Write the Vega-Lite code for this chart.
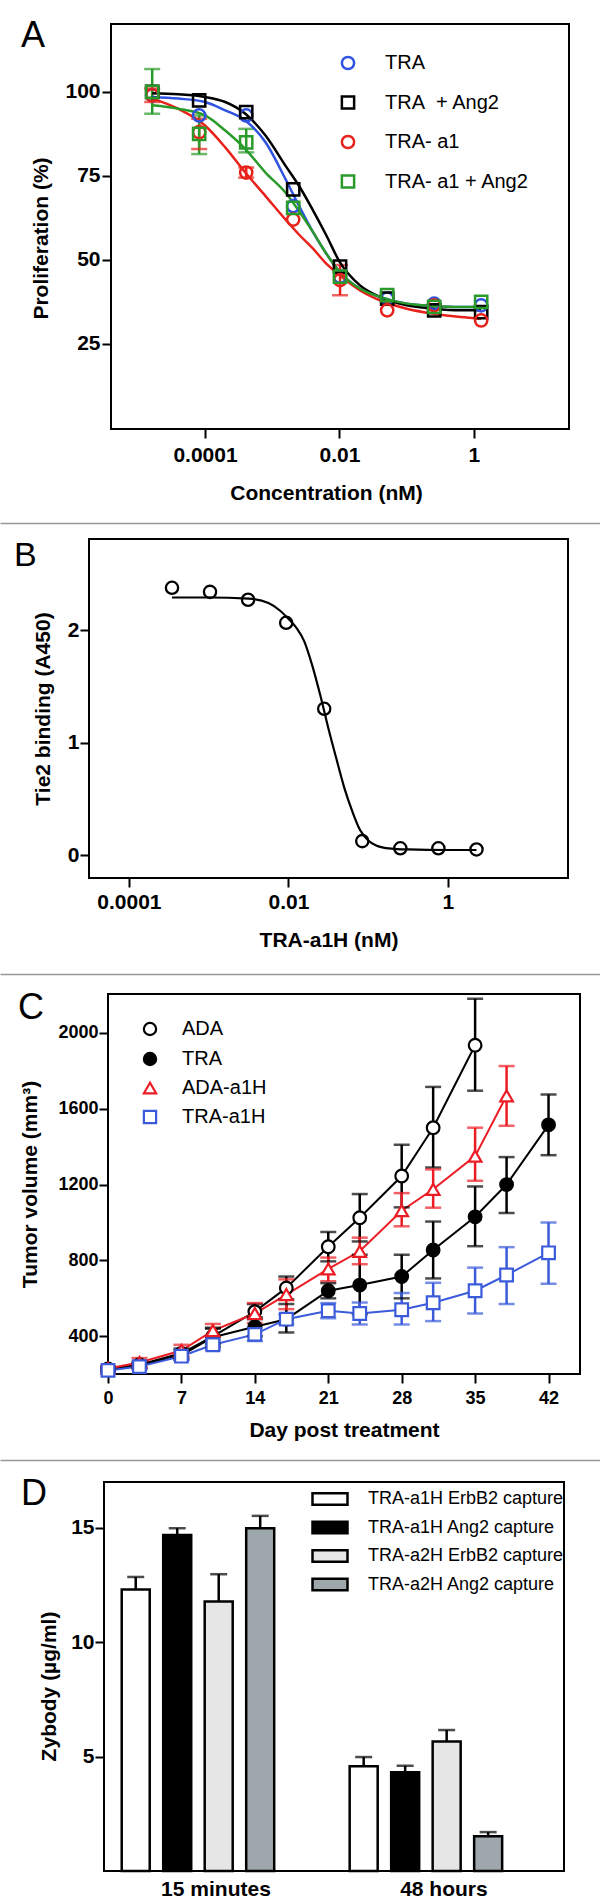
{
  "$schema": "https://vega.github.io/schema/vega-lite/v6.json",
  "padding": {"left": 0, "top": 17, "right": 0, "bottom": 0},
  "background": "white",
  "spacing": 15,
  "resolve": {
    "scale": {"color": "independent", "stroke": "independent", "fill": "independent", "shape": "independent"},
    "legend": {"color": "independent", "stroke": "independent", "fill": "independent", "shape": "independent"}
  },
  "config": {
    "font": "Liberation Sans",
    "view": {"stroke": "black", "strokeWidth": 2},
    "axis": {"domain": false, "grid": false, "tickColor": "black", "tickWidth": 2, "tickSize": 9,
      "labelFont": "Liberation Sans", "labelFontWeight": "bold", "labelFontSize": 21, "labelColor": "black",
      "labelPadding": 2, "labelOverlap": false, "labelFlush": false,
      "titleFont": "Liberation Sans", "titleFontWeight": "bold", "titleFontSize": 21, "titleColor": "black"},
    "legend": {"labelFont": "Liberation Sans", "labelColor": "black", "padding": 0, "labelLimit": 400, "symbolOpacity": 1},
    "title": {"font": "Liberation Sans", "fontSize": 36, "fontWeight": "normal", "color": "black", "anchor": "start", "frame": "group", "offset": 0, "baseline": "top"}
  },
  "datasets": {
    "a_pts": [
      {"s":"TRA","x":1.64e-5,"y":99},{"s":"TRA","x":8.19e-5,"y":93},{"s":"TRA","x":4.1e-4,"y":93},{"s":"TRA","x":2.05e-3,"y":66},{"s":"TRA","x":1.02e-2,"y":45},{"s":"TRA","x":5.12e-2,"y":38.5},{"s":"TRA","x":0.256,"y":37},{"s":"TRA","x":1.28,"y":36.5},
      {"s":"TRA\u00a0 + Ang2","x":1.64e-5,"y":100},{"s":"TRA\u00a0 + Ang2","x":8.19e-5,"y":97.5},{"s":"TRA\u00a0 + Ang2","x":4.1e-4,"y":94},{"s":"TRA\u00a0 + Ang2","x":2.05e-3,"y":71},{"s":"TRA\u00a0 + Ang2","x":1.02e-2,"y":48},{"s":"TRA\u00a0 + Ang2","x":5.12e-2,"y":38.5},{"s":"TRA\u00a0 + Ang2","x":0.256,"y":35},{"s":"TRA\u00a0 + Ang2","x":1.28,"y":34.5},
      {"s":"TRA- a1","x":1.64e-5,"y":99},{"s":"TRA- a1","x":8.19e-5,"y":88},{"s":"TRA- a1","x":4.1e-4,"y":76},{"s":"TRA- a1","x":2.05e-3,"y":62},{"s":"TRA- a1","x":1.02e-2,"y":44},{"s":"TRA- a1","x":5.12e-2,"y":35},{"s":"TRA- a1","x":0.256,"y":36.5},{"s":"TRA- a1","x":1.28,"y":32},
      {"s":"TRA- a1 + Ang2","x":1.64e-5,"y":100},{"s":"TRA- a1 + Ang2","x":8.19e-5,"y":87.5},{"s":"TRA- a1 + Ang2","x":4.1e-4,"y":85},{"s":"TRA- a1 + Ang2","x":2.05e-3,"y":65.5},{"s":"TRA- a1 + Ang2","x":1.02e-2,"y":45},{"s":"TRA- a1 + Ang2","x":5.12e-2,"y":39.5},{"s":"TRA- a1 + Ang2","x":0.256,"y":36},{"s":"TRA- a1 + Ang2","x":1.28,"y":37.5}
    ],
    "a_curve": [
      {"s":"TRA","x":1.64e-5,"y":98.5},{"s":"TRA","x":3.98e-5,"y":98},{"s":"TRA","x":1e-4,"y":97},{"s":"TRA","x":2e-4,"y":94.5},{"s":"TRA","x":3.98e-4,"y":91.5},{"s":"TRA","x":7.94e-4,"y":85},{"s":"TRA","x":1.58e-3,"y":74},{"s":"TRA","x":2.51e-3,"y":66},{"s":"TRA","x":3.98e-3,"y":58.5},{"s":"TRA","x":6.31e-3,"y":52},{"s":"TRA","x":0.01,"y":46.5},{"s":"TRA","x":0.02,"y":41.5},{"s":"TRA","x":0.0398,"y":39},{"s":"TRA","x":0.1,"y":37},{"s":"TRA","x":0.251,"y":36.3},{"s":"TRA","x":0.631,"y":36},{"s":"TRA","x":1.28,"y":36},
      {"s":"TRA\u00a0 + Ang2","x":1.64e-5,"y":99.6},{"s":"TRA\u00a0 + Ang2","x":3.98e-5,"y":99.3},{"s":"TRA\u00a0 + Ang2","x":1e-4,"y":98.5},{"s":"TRA\u00a0 + Ang2","x":2e-4,"y":97},{"s":"TRA\u00a0 + Ang2","x":3.98e-4,"y":93.5},{"s":"TRA\u00a0 + Ang2","x":7.94e-4,"y":87},{"s":"TRA\u00a0 + Ang2","x":1.58e-3,"y":78},{"s":"TRA\u00a0 + Ang2","x":2.51e-3,"y":72},{"s":"TRA\u00a0 + Ang2","x":3.98e-3,"y":65},{"s":"TRA\u00a0 + Ang2","x":6.31e-3,"y":57.5},{"s":"TRA\u00a0 + Ang2","x":0.01,"y":49.5},{"s":"TRA\u00a0 + Ang2","x":0.02,"y":42.5},{"s":"TRA\u00a0 + Ang2","x":0.0398,"y":39},{"s":"TRA\u00a0 + Ang2","x":0.1,"y":36.5},{"s":"TRA\u00a0 + Ang2","x":0.251,"y":35.5},{"s":"TRA\u00a0 + Ang2","x":0.631,"y":35},{"s":"TRA\u00a0 + Ang2","x":1.28,"y":35},
      {"s":"TRA- a1","x":1.64e-5,"y":98},{"s":"TRA- a1","x":3.98e-5,"y":95},{"s":"TRA- a1","x":1e-4,"y":90},{"s":"TRA- a1","x":2e-4,"y":83.5},{"s":"TRA- a1","x":3.98e-4,"y":76},{"s":"TRA- a1","x":7.94e-4,"y":69},{"s":"TRA- a1","x":1.58e-3,"y":62},{"s":"TRA- a1","x":2.51e-3,"y":57.5},{"s":"TRA- a1","x":3.98e-3,"y":53.5},{"s":"TRA- a1","x":6.31e-3,"y":49},{"s":"TRA- a1","x":0.01,"y":45.5},{"s":"TRA- a1","x":0.02,"y":41},{"s":"TRA- a1","x":0.0398,"y":38},{"s":"TRA- a1","x":0.1,"y":35.5},{"s":"TRA- a1","x":0.251,"y":34},{"s":"TRA- a1","x":0.631,"y":33},{"s":"TRA- a1","x":1.28,"y":32.5},
      {"s":"TRA- a1 + Ang2","x":1.64e-5,"y":96},{"s":"TRA- a1 + Ang2","x":3.98e-5,"y":95},{"s":"TRA- a1 + Ang2","x":1e-4,"y":93},{"s":"TRA- a1 + Ang2","x":2e-4,"y":88.5},{"s":"TRA- a1 + Ang2","x":3.98e-4,"y":83},{"s":"TRA- a1 + Ang2","x":7.94e-4,"y":76},{"s":"TRA- a1 + Ang2","x":1.58e-3,"y":70},{"s":"TRA- a1 + Ang2","x":2.51e-3,"y":64.5},{"s":"TRA- a1 + Ang2","x":3.98e-3,"y":58.5},{"s":"TRA- a1 + Ang2","x":6.31e-3,"y":52},{"s":"TRA- a1 + Ang2","x":0.01,"y":46.5},{"s":"TRA- a1 + Ang2","x":0.02,"y":41.5},{"s":"TRA- a1 + Ang2","x":0.0398,"y":39},{"s":"TRA- a1 + Ang2","x":0.1,"y":37},{"s":"TRA- a1 + Ang2","x":0.251,"y":36.3},{"s":"TRA- a1 + Ang2","x":0.631,"y":36},{"s":"TRA- a1 + Ang2","x":1.28,"y":36}
    ],
    "a_err": [
      {"s":"TRA- a1","x":1.64e-5,"lo":97,"hi":101},{"s":"TRA- a1","x":8.19e-5,"lo":83,"hi":92},{"s":"TRA- a1","x":4.1e-4,"lo":74.5,"hi":77.5},{"s":"TRA- a1","x":1.02e-2,"lo":39.5,"hi":48.5},
      {"s":"TRA- a1 + Ang2","x":1.64e-5,"lo":93.5,"hi":106.8},{"s":"TRA- a1 + Ang2","x":8.19e-5,"lo":81.5,"hi":93},{"s":"TRA- a1 + Ang2","x":4.1e-4,"lo":82,"hi":89}
    ],
    "b_pts": [
      {"x":3.47e-4,"y":2.376},{"x":1.04e-3,"y":2.34},{"x":3.12e-3,"y":2.27},{"x":9.37e-3,"y":2.065},{"x":0.0281,"y":1.3},{"x":0.0843,"y":0.124},{"x":0.253,"y":0.06},{"x":0.759,"y":0.06},{"x":2.28,"y":0.05}
    ],
    "b_curve": [
      {"x":3.47e-4,"y":2.29},{"x":1e-3,"y":2.29},{"x":3.16e-3,"y":2.28},{"x":5.62e-3,"y":2.24},{"x":7.94e-3,"y":2.17},{"x":0.01,"y":2.1},{"x":0.0126,"y":2.02},{"x":0.0158,"y":1.9},{"x":0.02,"y":1.68},{"x":0.0251,"y":1.42},{"x":0.0316,"y":1.13},{"x":0.0398,"y":0.86},{"x":0.0501,"y":0.6},{"x":0.0631,"y":0.39},{"x":0.0794,"y":0.22},{"x":0.1,"y":0.13},{"x":0.126,"y":0.085},{"x":0.178,"y":0.06},{"x":0.316,"y":0.05},{"x":1,"y":0.045},{"x":2.28,"y":0.045}
    ],
    "c": [
      {"s":"ADA","d":0,"v":228,"lo":215,"hi":240},{"s":"ADA","d":3,"v":250,"lo":235,"hi":265},{"s":"ADA","d":7,"v":310,"lo":285,"hi":335},{"s":"ADA","d":10,"v":400,"lo":360,"hi":440},{"s":"ADA","d":14,"v":530,"lo":490,"hi":570},{"s":"ADA","d":17,"v":655,"lo":595,"hi":715},{"s":"ADA","d":21,"v":872,"lo":795,"hi":950},{"s":"ADA","d":24,"v":1025,"lo":900,"hi":1150},{"s":"ADA","d":28,"v":1245,"lo":1080,"hi":1410},{"s":"ADA","d":31,"v":1500,"lo":1290,"hi":1715},{"s":"ADA","d":35,"v":1935,"lo":1695,"hi":2180},
      {"s":"TRA","d":0,"v":225,"lo":212,"hi":238},{"s":"TRA","d":3,"v":245,"lo":230,"hi":260},{"s":"TRA","d":7,"v":300,"lo":275,"hi":325},{"s":"TRA","d":10,"v":395,"lo":345,"hi":445},{"s":"TRA","d":14,"v":450,"lo":400,"hi":500},{"s":"TRA","d":17,"v":490,"lo":420,"hi":570},{"s":"TRA","d":21,"v":640,"lo":600,"hi":680},{"s":"TRA","d":24,"v":670,"lo":515,"hi":830},{"s":"TRA","d":28,"v":715,"lo":600,"hi":830},{"s":"TRA","d":31,"v":855,"lo":705,"hi":1005},{"s":"TRA","d":35,"v":1030,"lo":875,"hi":1190},{"s":"TRA","d":38,"v":1200,"lo":1050,"hi":1345},{"s":"TRA","d":42,"v":1515,"lo":1355,"hi":1675},
      {"s":"ADA-a1H","d":0,"v":230,"lo":218,"hi":242},{"s":"ADA-a1H","d":3,"v":262,"lo":240,"hi":285},{"s":"ADA-a1H","d":7,"v":325,"lo":295,"hi":355},{"s":"ADA-a1H","d":10,"v":430,"lo":395,"hi":465},{"s":"ADA-a1H","d":14,"v":520,"lo":470,"hi":575},{"s":"ADA-a1H","d":17,"v":620,"lo":543,"hi":700},{"s":"ADA-a1H","d":21,"v":755,"lo":690,"hi":815},{"s":"ADA-a1H","d":24,"v":848,"lo":780,"hi":920},{"s":"ADA-a1H","d":28,"v":1062,"lo":980,"hi":1155},{"s":"ADA-a1H","d":31,"v":1175,"lo":1078,"hi":1280},{"s":"ADA-a1H","d":35,"v":1350,"lo":1220,"hi":1500},{"s":"ADA-a1H","d":38,"v":1668,"lo":1510,"hi":1825},
      {"s":"TRA-a1H","d":0,"v":220,"lo":210,"hi":230},{"s":"TRA-a1H","d":3,"v":240,"lo":225,"hi":255},{"s":"TRA-a1H","d":7,"v":295,"lo":275,"hi":315},{"s":"TRA-a1H","d":10,"v":355,"lo":330,"hi":380},{"s":"TRA-a1H","d":14,"v":410,"lo":375,"hi":445},{"s":"TRA-a1H","d":17,"v":490,"lo":465,"hi":515},{"s":"TRA-a1H","d":21,"v":535,"lo":495,"hi":575},{"s":"TRA-a1H","d":24,"v":520,"lo":462,"hi":578},{"s":"TRA-a1H","d":28,"v":540,"lo":462,"hi":628},{"s":"TRA-a1H","d":31,"v":577,"lo":480,"hi":682},{"s":"TRA-a1H","d":35,"v":640,"lo":520,"hi":762},{"s":"TRA-a1H","d":38,"v":723,"lo":570,"hi":870},{"s":"TRA-a1H","d":42,"v":840,"lo":677,"hi":1000}
    ],
    "d": [
      {"g":"15 minutes","t":"TRA-a1H ErbB2 capture","v":12.3,"e":12.85},
      {"g":"15 minutes","t":"TRA-a1H Ang2 capture","v":14.68,"e":14.98},
      {"g":"15 minutes","t":"TRA-a2H ErbB2 capture","v":11.78,"e":12.97},
      {"g":"15 minutes","t":"TRA-a2H Ang2 capture","v":14.98,"e":15.52},
      {"g":"48 hours","t":"TRA-a1H ErbB2 capture","v":4.58,"e":4.98},
      {"g":"48 hours","t":"TRA-a1H Ang2 capture","v":4.32,"e":4.6},
      {"g":"48 hours","t":"TRA-a2H ErbB2 capture","v":5.66,"e":6.16},
      {"g":"48 hours","t":"TRA-a2H Ang2 capture","v":1.52,"e":1.7}
    ]
  },
  "vconcat": [
    {
      "spacing": 0,
      "resolve": {
        "scale": {"color": "independent", "stroke": "independent", "fill": "independent", "shape": "independent"},
        "legend": {"color": "independent", "stroke": "independent", "fill": "independent", "shape": "independent"}
      },
      "hconcat": [
        {"width": 20, "height": 1, "view": {"stroke": null}, "data": {"values": []}, "mark": "point", "encoding": {}},
        {
          "width": 458, "height": 405,
          "title": {"text": "A", "dx": -90, "dy": 35},
          "layer": [
            {
              "data": {"name": "a_err"},
              "mark": {"type": "rule", "strokeWidth": 2.5},
              "encoding": {
                "x": {"field": "x", "type": "quantitative", "scale": {"type": "log", "domain": [4.0e-6, 25.9], "nice": false},
                  "axis": {"values": [0.0001, 0.01, 1], "format": "~g", "title": "Concentration (nM)", "labelPadding": 6, "titlePadding": 17, "titleX": 215}},
                "y": {"field": "lo", "type": "quantitative", "scale": {"domain": [-0.3, 120.2], "nice": false, "zero": false},
                  "axis": {"values": [25, 50, 75, 100], "format": "d", "title": "Proliferation (%)", "titlePadding": 13, "titleY": 214}},
                "y2": {"field": "hi"},
                "color": {"field": "s", "type": "nominal", "scale": {"domain": ["TRA", "TRA\u00a0 + Ang2", "TRA- a1", "TRA- a1 + Ang2"], "range": ["#2f52e0", "#000000", "#e8221b", "#2a9a2a"]}}
              }
            },
            {
              "data": {"name": "a_err"},
              "mark": {"type": "tick", "orient": "horizontal", "filled": false, "size": 14, "thickness": 0.5, "strokeWidth": 2},
              "encoding": {
                "x": {"field": "x", "type": "quantitative"},
                "y": {"field": "lo", "type": "quantitative"},
                "color": {"field": "s", "type": "nominal"}
              }
            },
            {
              "data": {"name": "a_err"},
              "mark": {"type": "tick", "orient": "horizontal", "filled": false, "size": 14, "thickness": 0.5, "strokeWidth": 2},
              "encoding": {
                "x": {"field": "x", "type": "quantitative"},
                "y": {"field": "hi", "type": "quantitative"},
                "color": {"field": "s", "type": "nominal"}
              }
            },
            {
              "data": {"name": "a_curve"},
              "mark": {"type": "line", "interpolate": "monotone", "strokeWidth": 2.5},
              "encoding": {
                "x": {"field": "x", "type": "quantitative"},
                "y": {"field": "y", "type": "quantitative"},
                "color": {"field": "s", "type": "nominal"}
              }
            },
            {
              "data": {"name": "a_pts"},
              "mark": {"type": "point", "filled": false, "size": 150, "strokeWidth": 2.5, "opacity": 1},
              "encoding": {
                "x": {"field": "x", "type": "quantitative"},
                "y": {"field": "y", "type": "quantitative"},
                "color": {"field": "s", "type": "nominal", "scale": {"domain": ["TRA", "TRA\u00a0 + Ang2", "TRA- a1", "TRA- a1 + Ang2"], "range": ["#2f52e0", "#000000", "#e8221b", "#2a9a2a"]},
                  "legend": {"orient": "none", "legendX": 227, "legendY": 29, "title": null, "labelFontSize": 20, "symbolSize": 150, "symbolStrokeWidth": 2.5, "symbolOpacity": 1, "rowPadding": 15.5, "labelOffset": 27}},
                "shape": {"field": "s", "type": "nominal", "scale": {"domain": ["TRA", "TRA\u00a0 + Ang2", "TRA- a1", "TRA- a1 + Ang2"], "range": ["circle", "square", "circle", "square"]},
                  "legend": {"orient": "none", "legendX": 227, "legendY": 29, "title": null, "labelFontSize": 20, "symbolSize": 150, "symbolStrokeWidth": 2.5, "symbolOpacity": 1, "rowPadding": 15.5, "labelOffset": 27}}
              }
            }
          ]
        }
      ]
    },
    {
      "width": 600, "height": 4, "view": {"stroke": null}, "data": {"values": []},
      "mark": {"type": "point", "opacity": 0},
      "encoding": {"x": {"field": "q", "type": "quantitative", "scale": {"domain": [0, 1]},
        "axis": {"domain": true, "domainColor": "#999999", "domainWidth": 1.5, "ticks": false, "labels": false, "title": null, "grid": false}}}
    },
    {
      "spacing": 0,
      "hconcat": [
        {"width": 13, "height": 1, "view": {"stroke": null}, "data": {"values": []}, "mark": "point", "encoding": {}},
        {
          "width": 479, "height": 339,
          "title": {"text": "B", "dx": -75, "dy": 38, "fontSize": 34},
          "layer": [
            {
              "data": {"name": "b_curve"},
              "mark": {"type": "line", "interpolate": "monotone", "strokeWidth": 2.2, "color": "black"},
              "encoding": {
                "x": {"field": "x", "type": "quantitative", "scale": {"type": "log", "domain": [3.16e-5, 32], "nice": false},
                  "axis": {"values": [0.0001, 0.01, 1], "format": "~g", "title": "TRA-a1H (nM)", "labelPadding": 4, "titlePadding": 17}},
                "y": {"field": "y", "type": "quantitative", "scale": {"domain": [-0.204, 2.81], "nice": false, "zero": false},
                  "axis": {"values": [0, 1, 2], "format": "d", "title": "Tie2 binding (A450)", "labelPadding": 1, "titlePadding": 14}}
              }
            },
            {
              "data": {"name": "b_pts"},
              "mark": {"type": "point", "filled": false, "size": 150, "strokeWidth": 2.3, "color": "black", "opacity": 1},
              "encoding": {
                "x": {"field": "x", "type": "quantitative"},
                "y": {"field": "y", "type": "quantitative"}
              }
            }
          ]
        }
      ]
    },
    {
      "width": 600, "height": 8, "view": {"stroke": null}, "data": {"values": []},
      "mark": {"type": "point", "opacity": 0},
      "encoding": {"x": {"field": "q", "type": "quantitative", "scale": {"domain": [0, 1]},
        "axis": {"domain": true, "domainColor": "#999999", "domainWidth": 1.5, "ticks": false, "labels": false, "title": null, "grid": false}}}
    },
    {
      "spacing": 0,
      "resolve": {
        "scale": {"color": "independent", "stroke": "independent", "fill": "independent", "shape": "independent"},
        "legend": {"color": "independent", "stroke": "independent", "fill": "independent", "shape": "independent"}
      },
      "hconcat": [
        {"width": 17, "height": 1, "view": {"stroke": null}, "data": {"values": []}, "mark": "point", "encoding": {}},
        {
          "width": 472, "height": 380,
          "title": {"text": "C", "dx": -90, "dy": 37},
          "data": {"name": "c"},
          "layer": [
            {
              "mark": {"type": "line", "strokeWidth": 2},
              "encoding": {
                "x": {"field": "d", "type": "quantitative", "scale": {"domain": [0, 45], "nice": false},
                  "axis": {"values": [0, 7, 14, 21, 28, 35, 42], "format": "d", "title": "Day post treatment", "labelFontSize": 18, "labelPadding": 6, "titlePadding": 12}},
                "y": {"field": "v", "type": "quantitative", "scale": {"domain": [201, 2205], "nice": false, "zero": false},
                  "axis": {"values": [400, 800, 1200, 1600, 2000], "format": "d", "title": "Tumor volume (mm³)", "labelFontSize": 18, "labelPadding": 1, "titlePadding": 17}},
                "color": {"field": "s", "type": "nominal", "scale": {"domain": ["ADA", "TRA", "ADA-a1H", "TRA-a1H"], "range": ["#000000", "#000000", "#ec1c24", "#3b5bdb"]}}
              }
            },
            {
              "mark": {"type": "rule", "strokeWidth": 2.5},
              "encoding": {
                "x": {"field": "d", "type": "quantitative"},
                "y": {"field": "lo", "type": "quantitative"},
                "y2": {"field": "hi"},
                "color": {"field": "s", "type": "nominal"}
              }
            },
            {
              "mark": {"type": "tick", "orient": "horizontal", "filled": false, "size": 14, "thickness": 0.5, "strokeWidth": 2},
              "encoding": {
                "x": {"field": "d", "type": "quantitative"},
                "y": {"field": "lo", "type": "quantitative"},
                "color": {"field": "s", "type": "nominal"}
              }
            },
            {
              "mark": {"type": "tick", "orient": "horizontal", "filled": false, "size": 14, "thickness": 0.5, "strokeWidth": 2},
              "encoding": {
                "x": {"field": "d", "type": "quantitative"},
                "y": {"field": "hi", "type": "quantitative"},
                "color": {"field": "s", "type": "nominal"}
              }
            },
            {
              "mark": {"type": "point", "filled": false, "size": 160, "strokeWidth": 2.2, "opacity": 1},
              "encoding": {
                "x": {"field": "d", "type": "quantitative"},
                "y": {"field": "v", "type": "quantitative"},
                "color": {"field": "s", "type": "nominal", "scale": {"domain": ["ADA", "TRA", "ADA-a1H", "TRA-a1H"], "range": ["#000000", "#000000", "#ec1c24", "#3b5bdb"]},
                  "legend": {"orient": "none", "legendX": 32, "legendY": 25, "title": null, "labelFontSize": 20, "symbolSize": 150, "symbolStrokeWidth": 2.2, "symbolOpacity": 1, "rowPadding": 8, "labelOffset": 22}},
                "fill": {"field": "s", "type": "nominal", "scale": {"domain": ["ADA", "TRA", "ADA-a1H", "TRA-a1H"], "range": ["#ffffff", "#000000", "#ffffff", "#ffffff"]},
                  "legend": {"orient": "none", "legendX": 32, "legendY": 25, "title": null, "labelFontSize": 20, "symbolSize": 150, "symbolStrokeWidth": 2.2, "symbolOpacity": 1, "rowPadding": 8, "labelOffset": 22}},
                "shape": {"field": "s", "type": "nominal", "scale": {"domain": ["ADA", "TRA", "ADA-a1H", "TRA-a1H"], "range": ["circle", "circle", "triangle-up", "square"]},
                  "legend": {"orient": "none", "legendX": 32, "legendY": 25, "title": null, "labelFontSize": 20, "symbolSize": 150, "symbolStrokeWidth": 2.2, "symbolOpacity": 1, "rowPadding": 8, "labelOffset": 22}}
              }
            }
          ]
        }
      ]
    },
    {
      "width": 600, "height": 4, "view": {"stroke": null}, "data": {"values": []},
      "mark": {"type": "point", "opacity": 0},
      "encoding": {"x": {"field": "q", "type": "quantitative", "scale": {"domain": [0, 1]},
        "axis": {"domain": true, "domainColor": "#999999", "domainWidth": 1.5, "ticks": false, "labels": false, "title": null, "grid": false}}}
    },
    {
      "spacing": 0,
      "resolve": {
        "scale": {"color": "independent", "stroke": "independent", "fill": "independent", "shape": "independent"},
        "legend": {"color": "independent", "stroke": "independent", "fill": "independent", "shape": "independent"}
      },
      "hconcat": [
        {"width": 20, "height": 1, "view": {"stroke": null}, "data": {"values": []}, "mark": "point", "encoding": {}},
        {
          "width": 460, "height": 389,
          "title": {"text": "D", "dx": -83, "dy": 35},
          "data": {"name": "d"},
          "layer": [
            {
              "mark": {"type": "bar", "stroke": "black", "strokeWidth": 2.5},
              "encoding": {
                "x": {"field": "g", "type": "nominal", "scale": {"paddingInner": 0.2, "paddingOuter": 0.109, "align": 0.056},
                  "axis": {"title": null, "ticks": false, "labelAngle": 0, "labelPadding": 7, "labelOffset": 18}},
                "xOffset": {"field": "t", "type": "nominal", "scale": {"domain": ["TRA-a1H ErbB2 capture", "TRA-a1H Ang2 capture", "TRA-a2H ErbB2 capture", "TRA-a2H Ang2 capture"], "paddingInner": 0.325, "paddingOuter": 0.36}},
                "y": {"field": "v", "type": "quantitative", "scale": {"domain": [0, 17], "nice": false},
                  "axis": {"values": [5, 10, 15], "format": "d", "title": "Zybody (µg/ml)", "labelPadding": 1, "titlePadding": 11, "titleY": 204}},
                "fill": {"field": "t", "type": "nominal", "scale": {"domain": ["TRA-a1H ErbB2 capture", "TRA-a1H Ang2 capture", "TRA-a2H ErbB2 capture", "TRA-a2H Ang2 capture"], "range": ["#ffffff", "#000000", "#e6e6e6", "#9ea7ac"]},
                  "legend": {"orient": "none", "legendX": 217, "legendY": 8, "title": null, "labelFontSize": 18, "symbolType": "M-3,-1H3V1H-3Z", "symbolSize": 136, "symbolStrokeColor": "black", "symbolStrokeWidth": 2.5, "rowPadding": 6.5, "labelOffset": 29}}
              }
            },
            {
              "mark": {"type": "rule", "strokeWidth": 2.5, "color": "black"},
              "encoding": {
                "x": {"field": "g", "type": "nominal"},
                "xOffset": {"field": "t", "type": "nominal"},
                "y": {"field": "v", "type": "quantitative"},
                "y2": {"field": "e"}
              }
            },
            {
              "mark": {"type": "tick", "orient": "horizontal", "size": 17, "thickness": 2.5, "color": "black"},
              "encoding": {
                "x": {"field": "g", "type": "nominal"},
                "xOffset": {"field": "t", "type": "nominal"},
                "y": {"field": "e", "type": "quantitative"}
              }
            }
          ]
        }
      ]
    }
  ]
}
